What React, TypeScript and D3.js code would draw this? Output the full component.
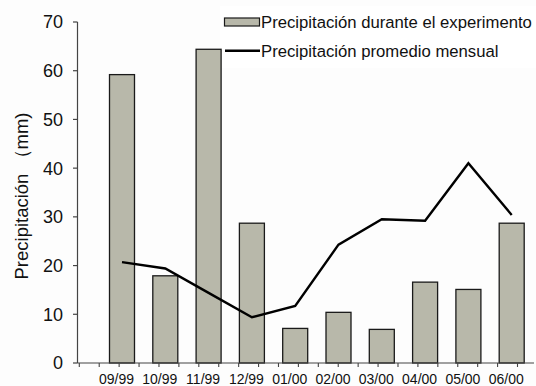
import React from "react";
import * as d3 from "d3";

const categories = ["09/99", "10/99", "11/99", "12/99", "01/00", "02/00", "03/00", "04/00", "05/00", "06/00"];
const experimento = [59.2, 17.9, 64.4, 28.7, 7.1, 10.4, 6.9, 16.6, 15.1, 28.7];
const promedio = [20.7, 19.4, 14.4, 9.4, 11.7, 24.3, 29.5, 29.2, 41.0, 30.4];
const yTicks = [0, 10, 20, 30, 40, 50, 60, 70];
const minorTickCount = 23;
const legendLabels = ["Precipitación durante el experimento", "Precipitación promedio mensual"];
const yLabel = "Precipitación （mm)";

const W = 536;
const H = 386;
const FONT = "'Liberation Sans', Arial, sans-serif";

export default function App() {
  const x = d3.scalePoint<string>().domain(categories).range([122, 511.7]);
  const y = d3.scaleLinear().domain([0, 70]).range([363, 22]);
  const minor = d3.scaleLinear().domain([0, minorTickCount - 1]).range([79.3, 517.5]);
  const barW = 25;
  const axisX = 77.5;
  const line = d3
    .line<number>()
    .x((_, i) => x(categories[i]) as number)
    .y((d) => y(d));

  return (
    <svg
      width={W}
      height={H}
      style={{ position: "absolute", left: 0, top: 0, background: "#fdfdfd" }}
      fontFamily={FONT}
    >
      <rect x={0} y={0} width={W} height={H} fill="#fdfdfd" />
      {/* legend background */}
      <rect x={220} y={6} width={316} height={62} fill="#ffffff" />
      {/* bars */}
      {experimento.map((v, i) => (
        <rect
          key={i}
          x={(x(categories[i]) as number) - barW / 2}
          y={y(v)}
          width={barW}
          height={y(0) - y(v)}
          fill="#b8b8aa"
          stroke="#1a1a1a"
          strokeWidth={1.3}
        />
      ))}
      {/* line */}
      <path d={line(promedio) || ""} fill="none" stroke="#000" strokeWidth={2.4} strokeLinejoin="miter" />
      {/* y axis */}
      <line x1={axisX} x2={axisX} y1={y(70)} y2={y(0)} stroke="#444" strokeWidth={1.2} />
      {yTicks.map((t) => (
        <g key={t}>
          <line x1={axisX - 4.5} x2={axisX} y1={y(t)} y2={y(t)} stroke="#444" strokeWidth={1.2} />
          <text x={63} y={y(t)} dy="0.36em" textAnchor="end" fontSize={18} fill="#111">
            {t}
          </text>
        </g>
      ))}
      {/* x axis */}
      <line x1={axisX} x2={534} y1={y(0)} y2={y(0)} stroke="#444" strokeWidth={1.2} />
      {d3.range(minorTickCount).map((k) => (
        <line key={k} x1={minor(k)} x2={minor(k)} y1={y(0)} y2={y(0) + 4} stroke="#444" strokeWidth={1.1} />
      ))}
      {categories.map((c) => (
        <text key={c} x={(x(c) as number) - 5.5} y={384} textAnchor="middle" fontSize={14} fill="#111">
          {c}
        </text>
      ))}
      {/* y label */}
      <text
        transform={`translate(28,196) rotate(-90)`}
        textAnchor="middle"
        fontSize={18.5}
        fill="#111"
      >
        {yLabel}
      </text>
      {/* legend */}
      <rect x={224.5} y={18} width={35} height={8} fill="#b8b8aa" stroke="#1a1a1a" strokeWidth={1.2} />
      <text x={261} y={22} dy="0.36em" fontSize={16.7} fill="#111">
        {legendLabels[0]}
      </text>
      <line x1={225} x2={260} y1={50.7} y2={50.7} stroke="#000" strokeWidth={2.4} />
      <text x={261} y={51} dy="0.36em" fontSize={16.7} fill="#111">
        {legendLabels[1]}
      </text>
    </svg>
  );
}
